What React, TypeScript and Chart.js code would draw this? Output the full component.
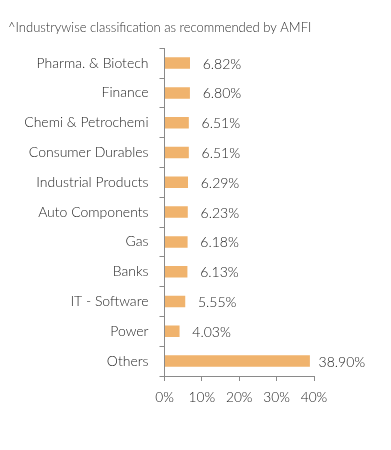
import React, { useEffect, useRef } from "react";
import { Chart, registerables } from "chart.js";

Chart.register(...registerables);

const titleText = "^Industrywise classification as recommended by AMFI";
const categories = [
  "Pharma. & Biotech",
  "Finance",
  "Chemi & Petrochemi",
  "Consumer Durables",
  "Industrial Products",
  "Auto Components",
  "Gas",
  "Banks",
  "IT - Software",
  "Power",
  "Others",
];
const values = [6.82, 6.8, 6.51, 6.51, 6.29, 6.23, 6.18, 6.13, 5.55, 4.03, 38.9];
const xTicks = [0, 10, 20, 30, 40];

const FONT = "Lato";
const TEXT = "#262626";
const AXIS = "#8a8a8a";
const BAR = "#F0B36D";

const labelPlugin = {
  id: "barLabels",
  afterDatasetsDraw(chart: any) {
    const ctx = chart.ctx;
    const meta = chart.getDatasetMeta(0);
    ctx.save();
    ctx.font = `300 14px ${FONT}`;
    ctx.fillStyle = TEXT;
    ctx.textAlign = "center";
    ctx.textBaseline = "middle";
    meta.data.forEach((bar: any, i: number) => {
      ctx.fillText(values[i].toFixed(2) + "%", bar.x + 32, bar.y + 1);
    });
    ctx.restore();
  },
};

export default function App() {
  const ref = useRef<HTMLCanvasElement>(null);
  useEffect(() => {
    if (!ref.current) return;
    const chart = new Chart(ref.current, {
      type: "bar",
      data: {
        labels: categories,
        datasets: [
          {
            data: values,
            backgroundColor: BAR,
            borderWidth: 0,
            barPercentage: 0.386,
            categoryPercentage: 1,
          },
        ],
      },
      options: {
        indexAxis: "y",
        animation: false,
        responsive: false,
        maintainAspectRatio: false,
        layout: { padding: { top: 0, right: 69, bottom: 22, left: 0 } },
        plugins: {
          legend: { display: false },
          tooltip: { enabled: false },
          title: {
            display: true,
            text: titleText,
            align: "start",
            color: "#333333",
            font: { family: FONT, size: 13, weight: "300" },
            padding: { top: 12.3, bottom: 12.3 },
          },
        },
        scales: {
          x: {
            min: 0,
            max: 40,
            afterFit: (s: any) => {
              s.height = 40;
            },
            afterBuildTicks: (s: any) => {
              s.ticks = xTicks.map((v) => ({ value: v }));
            },
            grid: { drawOnChartArea: false, drawTicks: true, tickLength: 5, color: AXIS },
            border: { color: AXIS, width: 1 },
            ticks: {
              color: TEXT,
              font: { family: FONT, size: 13.7, weight: "300" },
              padding: 8,
              callback: (v: any) => v + "%",
            },
          },
          y: {
            afterFit: (s: any) => {
              s.width = 156.5;
            },
            grid: { drawOnChartArea: false, drawTicks: true, tickLength: 5, color: AXIS, offset: true },
            border: { color: AXIS, width: 1 },
            ticks: {
              color: TEXT,
              font: { family: FONT, size: 14, weight: "300" },
              padding: 11,
            },
          },
        },
      },
      plugins: [labelPlugin],
    });
    return () => chart.destroy();
  }, []);
  return (
    <div style={{ width: 375, height: 430 }}>
      <canvas ref={ref} width={375} height={430} style={{ display: "block" }} />
    </div>
  );
}
